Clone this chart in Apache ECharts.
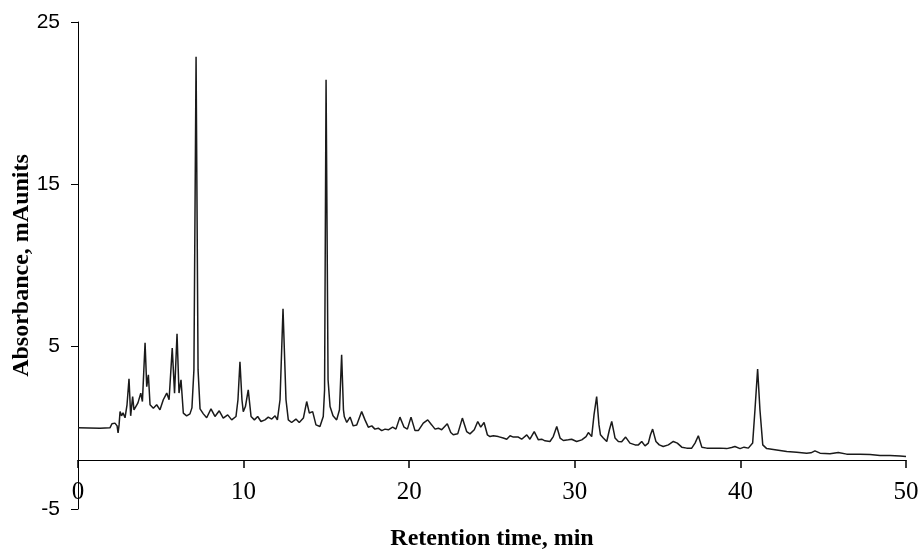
<!DOCTYPE html>
<html>
<head>
<meta charset="utf-8">
<script src="https://cdn.jsdelivr.net/npm/echarts@6/dist/echarts.min.js"></script>
<style>html,body{margin:0;padding:0;background:#fff;}#chart{width:922px;height:549px;}</style>
</head>
<body>
<div id="chart"></div>
<script>
// Retention time (min)
var times = [0,1.33,1.93,2.05,2.23,2.36,2.42,2.48,2.54,2.63,2.72,2.84,2.96,3.08,3.18,3.30,3.38,3.50,3.62,3.79,3.89,4.05,4.15,4.25,4.35,4.55,4.75,4.95,5.15,5.36,5.50,5.69,5.83,5.98,6.10,6.22,6.36,6.56,6.76,6.88,7.00,7.13,7.25,7.37,7.57,7.77,8.03,8.27,8.53,8.77,9.04,9.28,9.54,9.66,9.78,9.90,9.98,10.11,10.28,10.45,10.65,10.85,11.05,11.29,11.49,11.70,11.90,12.04,12.20,12.38,12.56,12.70,12.90,13.16,13.36,13.61,13.81,13.97,14.17,14.37,14.61,14.81,14.89,14.98,15.10,15.22,15.40,15.62,15.79,15.92,16.03,16.08,16.23,16.43,16.62,16.83,17.13,17.33,17.53,17.74,17.93,18.13,18.34,18.54,18.74,19.00,19.20,19.44,19.69,19.89,20.11,20.35,20.55,20.85,21.12,21.36,21.56,21.76,21.96,22.30,22.51,22.66,22.93,23.21,23.47,23.67,23.93,24.14,24.32,24.52,24.72,24.88,25.08,25.38,25.68,25.89,26.09,26.29,26.59,26.79,27.10,27.29,27.55,27.80,28.00,28.20,28.50,28.70,28.91,29.11,29.31,29.61,29.81,30.11,30.42,30.68,30.82,31.02,31.16,31.32,31.46,31.55,31.72,31.93,32.09,32.23,32.37,32.43,32.63,32.83,33.07,33.33,33.64,33.84,34.04,34.24,34.44,34.57,34.70,34.84,34.90,35.10,35.34,35.65,35.95,36.19,36.46,36.76,37.06,37.26,37.46,37.67,37.97,38.36,38.77,39.17,39.47,39.67,39.98,40.22,40.48,40.74,40.88,41.04,41.18,41.35,41.59,42.19,42.80,43.40,44.00,44.26,44.50,44.81,45.41,45.91,46.42,47.22,47.83,48.43,49.03,49.64,50.00];
// Absorbance (mAunits)
var absorbance = [0,-0.02,0,0.25,0.29,0.12,-0.31,0.18,1.0,0.74,0.92,0.62,1.42,3.02,0.74,1.93,1.11,1.23,1.54,2.14,1.62,5.24,2.54,3.27,1.42,1.21,1.42,1.11,1.73,2.14,1.73,4.91,2.14,5.79,2.14,2.96,0.91,0.74,0.86,1.23,3.57,22.86,3.57,1.17,0.86,0.62,1.17,0.70,1.05,0.60,0.80,0.49,0.70,1.73,4.07,1.73,1.0,1.31,2.34,0.70,0.49,0.70,0.39,0.49,0.66,0.54,0.74,0.49,1.73,7.33,1.73,0.49,0.33,0.54,0.33,0.60,1.62,0.91,1.0,0.18,0.08,0.70,2.34,21.44,2.96,1.31,0.74,0.49,1.11,4.50,1.11,0.70,0.33,0.66,0.12,0.18,1.0,0.49,0.04,0.12,-0.08,-0.02,-0.17,-0.08,-0.12,0.04,-0.08,0.66,0.04,-0.08,0.66,-0.17,-0.17,0.29,0.49,0.18,-0.08,-0.02,-0.12,0.25,-0.29,-0.43,-0.37,0.60,-0.23,-0.37,-0.12,0.39,0.04,0.33,-0.43,-0.54,-0.49,-0.54,-0.63,-0.70,-0.49,-0.57,-0.57,-0.70,-0.43,-0.70,-0.23,-0.74,-0.70,-0.80,-0.84,-0.54,0.08,-0.63,-0.78,-0.74,-0.70,-0.84,-0.74,-0.54,-0.29,-0.54,0.80,1.93,0.18,-0.43,-0.63,-0.84,-0.12,0.39,-0.31,-0.63,-0.84,-0.86,-0.57,-0.94,-1.05,-1.05,-0.84,-1.11,-0.94,-0.43,-0.08,-0.62,-0.84,-1.05,-1.15,-1.05,-0.84,-0.94,-1.19,-1.25,-1.25,-0.94,-0.49,-1.19,-1.25,-1.25,-1.25,-1.28,-1.21,-1.15,-1.28,-1.19,-1.25,-0.94,1.11,3.62,1.11,-1.05,-1.28,-1.36,-1.46,-1.50,-1.56,-1.54,-1.42,-1.56,-1.60,-1.52,-1.62,-1.62,-1.65,-1.71,-1.71,-1.73,-1.77];
var xTicks = [0, 10, 20, 30, 40, 50];
var yTicks = [-5, 5, 15, 25];
var xCross = -2; // y value where the x axis line crosses
var xTitle = 'Retention time, min';
var yTitle = 'Absorbance, mAunits';

var data = times.map(function (t, i) { return [t, absorbance[i]]; });
var xMin = xTicks[0], xMax = xTicks[xTicks.length - 1];

var chart = echarts.init(document.getElementById('chart'), null, {renderer: 'canvas'});
chart.setOption({
  animation: false,
  backgroundColor: '#fff',
  grid: [
    {left: 78, right: 16, top: 22, bottom: 40, containLabel: false, outerBoundsMode: 'none'},
    {left: 78, right: 16, top: 22, bottom: 89, containLabel: false, outerBoundsMode: 'none'}
  ],
  xAxis: [{
    gridIndex: 0, type: 'value', min: xMin, max: xMax, interval: 10,
    axisLine: {show: false}, axisTick: {show: false}, axisLabel: {show: false}, splitLine: {show: false}
  }, {
    gridIndex: 1, type: 'value', min: xMin, max: xMax, interval: 10, position: 'bottom',
    axisLine: {show: true, onZero: false, lineStyle: {color: '#000', width: 1}},
    axisTick: {show: true, length: 8, lineStyle: {color: '#000', width: 1.5}},
    axisLabel: {color: '#000', fontFamily: 'Liberation Serif', fontSize: 25, margin: 20},
    splitLine: {show: false},
    name: xTitle, nameLocation: 'middle', nameGap: 67, nameMoveOverlap: false,
    nameTextStyle: {color: '#000', fontFamily: 'Liberation Serif', fontWeight: 'bold', fontSize: 24}
  }],
  yAxis: [{
    gridIndex: 0, type: 'value', min: yTicks[0], max: yTicks[yTicks.length - 1], interval: 10,
    axisLine: {show: true, onZero: false, lineStyle: {color: '#000', width: 1}},
    axisTick: {show: true, inside: false, length: 7, lineStyle: {color: '#000'}},
    axisLabel: {color: '#000', fontFamily: 'Liberation Sans', fontSize: 21, margin: 18},
    splitLine: {show: false},
    name: yTitle, nameLocation: 'middle', nameGap: 44, nameRotate: 90, nameMoveOverlap: false,
    nameTextStyle: {color: '#000', fontFamily: 'Liberation Serif', fontWeight: 'bold', fontSize: 24}
  }, {
    gridIndex: 1, type: 'value', min: xCross, max: yTicks[yTicks.length - 1], show: false
  }],
  series: [{
    type: 'line', data: data, xAxisIndex: 0, yAxisIndex: 0,
    showSymbol: false, symbol: 'none',
    lineStyle: {color: '#1a1a1a', width: 1.5},
    z: 3
  }]
});
</script>
</body>
</html>
